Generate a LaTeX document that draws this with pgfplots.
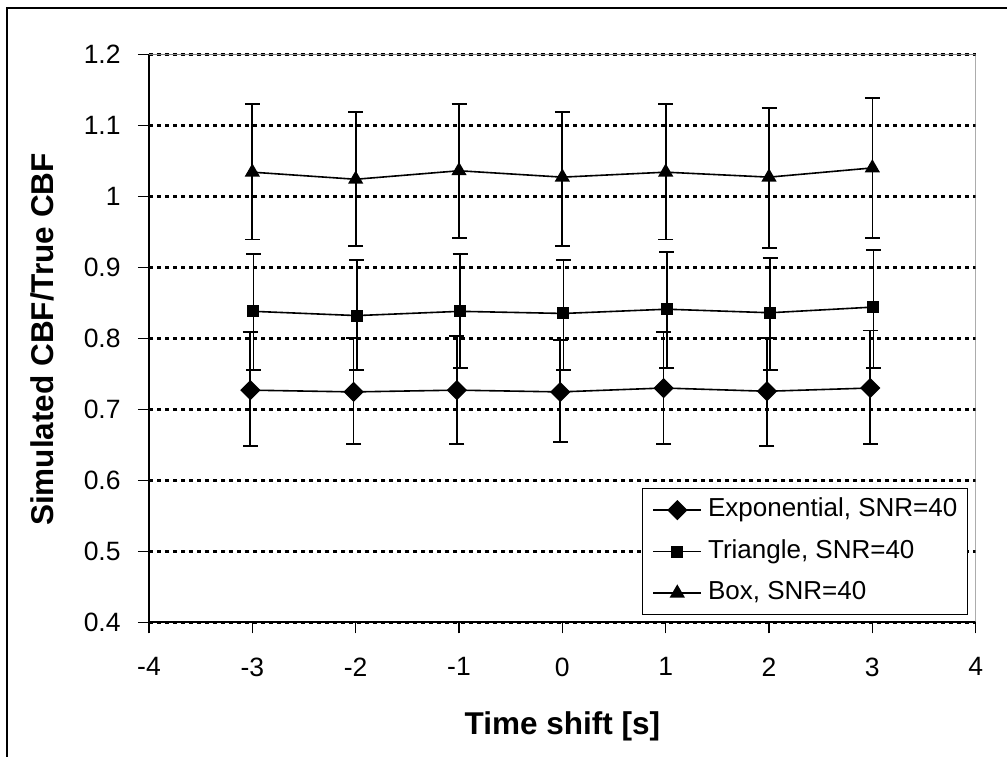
\documentclass[border=0pt]{standalone}
\usepackage{fontspec}
\setmainfont{Liberation Sans}
\usepackage{pgfplots}
\pgfplotsset{compat=1.18}
\usepackage{pgfplotstable}

% x  y  error-plus  error-minus
\pgfplotstableread{
x y ep em
-3.02 0.727 0.082 0.0785
-2.02 0.7245 0.076 0.0735
-1.02 0.727 0.076 0.076
-0.02 0.7245 0.073 0.0705
0.98 0.730 0.079 0.079
1.98 0.7254 0.075 0.077
2.98 0.730 0.081 0.079
}\expdata

\pgfplotstableread{
x y ep em
-2.99 0.838 0.081 0.0825
-1.99 0.832 0.078 0.0765
-0.99 0.838 0.081 0.080
0.01 0.835 0.075 0.0795
1.01 0.841 0.081 0.083
2.01 0.836 0.077 0.0805
3.01 0.844 0.0805 0.086
}\tridata

\pgfplotstableread{
x y ep em
-3 1.034 0.096 0.095
-2 1.024 0.095 0.094
-1 1.036 0.094 0.095
0 1.027 0.092 0.097
1 1.034 0.096 0.095
2 1.027 0.0975 0.100
3 1.040 0.0986 0.099
}\boxdata

\begin{document}
\begin{tikzpicture}
\useasboundingbox (0,0) rectangle (503.5pt,-378pt);
\draw[line width=1pt] (3.5pt,-400pt) -- (3.5pt,-4pt) -- (520pt,-4pt);
\begin{axis}[
  at={(74.5pt,-311.15pt)}, anchor=south west,
  scale only axis, width=413.35pt, height=284pt,
  xmin=-4, xmax=4, ymin=0.4, ymax=1.2,
  xtick={-4,-3,-2,-1,0,1,2,3,4},
  xticklabels={-4,-3,-2,-1,0,1,2,3,4},
  ytick={0.4,0.5,0.6,0.7,0.8,0.9,1,1.1,1.2},
  yticklabels={0.4,0.5,0.6,0.7,0.8,0.9,1,1.1,1.2},
  axis lines=left,
  axis line style={-, line width=1pt, black},
  tick align=outside,
  major tick length=5.5pt,
  tick style={line width=0.8pt, black},
  ymajorgrids,
  grid style={black, line width=1.3pt, dash pattern=on 2pt off 2pt},
  tick label style={font=\fontsize{13.25}{15}\selectfont},
  yticklabel style={inner sep=0pt, anchor=east, xshift=-8.5pt},
  xticklabel style={inner sep=0pt, anchor=north, yshift=-12pt},
  xlabel={Time shift [s]},
  ylabel={Simulated CBF/True CBF},
  label style={font=\fontsize{15.75}{18}\selectfont\bfseries},
  xlabel style={at={(axis description cs:0.5,0)}, anchor=base, yshift=-55.85pt},
  ylabel style={at={(axis description cs:-0.11612,0.498)}, anchor=base},
  legend cell align=left,
  legend image code/.code={\draw[mark repeat=2,mark phase=2,#1] plot coordinates {(0pt,0pt) (12pt,0pt) (24pt,0pt)};},
  legend style={at={(axis description cs:0.9907,0.2364)}, anchor=north east,
    draw=black, line width=0.6pt, inner xsep=5pt, inner ysep=4.65pt,
    row sep=8.55pt, column sep=3pt,
    font=\fontsize{13}{15.6}\selectfont,
    nodes={inner sep=0pt, text height=9.4pt, text depth=2.8pt}},
]
\draw[gray, line width=0.75pt] (rel axis cs:0,1) -- (rel axis cs:1,1) -- (rel axis cs:1,0);
\addplot[black, line width=0.8pt, mark=square*, mark size=3.18pt,
  mark options={solid, fill=black, rotate=45},
  error bars/.cd, y dir=both, y explicit,
  error bar style={line width=0.85pt, black, solid},
  error mark options={black, mark size=3.75pt, line width=0.85pt, rotate=90}]
  table[x=x, y=y, y error plus=ep, y error minus=em]{\expdata};
\addlegendentry{Exponential, SNR=40}
\addplot[black, line width=0.8pt, mark=square*, mark size=2.6pt,
  mark options={solid, fill=black},
  error bars/.cd, y dir=both, y explicit,
  error bar style={line width=0.85pt, black, solid},
  error mark options={black, mark size=3.75pt, line width=0.85pt, rotate=90}]
  table[x=x, y=y, y error plus=ep, y error minus=em]{\tridata};
\addlegendentry{Triangle, SNR=40}
\addplot[black, line width=0.8pt, mark=triangle*, mark size=3.6pt,
  mark options={solid, fill=black},
  error bars/.cd, y dir=both, y explicit,
  error bar style={line width=0.85pt, black, solid},
  error mark options={black, mark size=3.75pt, line width=0.85pt, rotate=90}]
  table[x=x, y=y, y error plus=ep, y error minus=em]{\boxdata};
\addlegendentry{Box, SNR=40}
\end{axis}
\end{tikzpicture}
\end{document}
